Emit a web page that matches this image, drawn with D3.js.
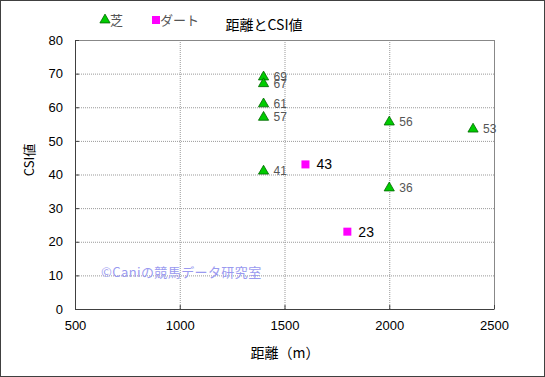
<!DOCTYPE html>
<html lang="ja">
<head>
  <meta charset="UTF-8">
  <title>距離とCSI値</title>
  <script src='https://d3js.org/d3.v7.min.js'></script>
  <style>
    body { margin: 0; background: #fff; }
    text { font-family: "Liberation Sans", "Noto Sans CJK JP", sans-serif; }
    .jp { font-family: "Noto Sans CJK JP", sans-serif; }
  </style>
</head>
<body>
</body>
<script>
  const width = 545, height = 377;
  const margin = {top: 40, right: 51, bottom: 68, left: 75};

  // data
  const turfDist = [1400, 1400, 1400, 1400, 1400, 2000, 2000, 2400];
  const turfCsi  = [69, 67, 61, 57, 41, 55.6, 36, 53.5];
  const turfLabels = ['69', '67', '61', '57', '41', '56', '36', '53'];
  const dirtDist = [1600, 1800];
  const dirtCsi  = [43, 23];
  const dirtLabels = ['43', '23'];
  const xTicks = [500, 1000, 1500, 2000, 2500];
  const yTicks = [0, 10, 20, 30, 40, 50, 60, 70, 80];

  const turf = turfDist.map((d, i) => ({x: d, y: turfCsi[i], label: turfLabels[i]}));
  const dirt = dirtDist.map((d, i) => ({x: d, y: dirtCsi[i], label: dirtLabels[i]}));

  const svg = d3.select('body').append('svg').attr('width', width).attr('height', height);

  // outer frame
  svg.append('rect').attr('x', 0.5).attr('y', 0.5).attr('width', width - 1).attr('height', height - 1)
    .attr('fill', '#fff').attr('stroke', '#404040');

  const x = d3.scaleLinear().domain([500, 2500]).range([margin.left, width - margin.right]);
  const y = d3.scaleLinear().domain([0, 80]).range([height - margin.bottom, margin.top]);

  // gridlines
  svg.append('g').selectAll('line').data(xTicks.slice(1, -1)).join('line')
    .attr('x1', d => x(d) + 0.5).attr('x2', d => x(d) + 0.5)
    .attr('y1', y(80)).attr('y2', y(0))
    .attr('stroke', '#999').attr('stroke-dasharray', '1,1');
  svg.append('g').selectAll('line').data(yTicks.slice(1, -1)).join('line')
    .attr('x1', x(500)).attr('x2', x(2500))
    .attr('y1', d => y(d) + 0.5).attr('y2', d => y(d) + 0.5)
    .attr('stroke', '#999').attr('stroke-dasharray', '1,1');

  // plot border (top/right light, left/bottom dark)
  svg.append('line').attr('x1', x(500)).attr('x2', x(2500)).attr('y1', y(80) + 0.5).attr('y2', y(80) + 0.5).attr('stroke', '#888');
  svg.append('line').attr('x1', x(2500) + 0.5).attr('x2', x(2500) + 0.5).attr('y1', y(80)).attr('y2', y(0)).attr('stroke', '#888');

  const xAxis = svg.append('g').attr('transform', `translate(0,${y(0)})`)
    .call(d3.axisBottom(x).tickValues(xTicks).tickSize(4).tickSizeOuter(0).tickFormat(d3.format('d')));
  const yAxis = svg.append('g').attr('transform', `translate(${x(500)},0)`)
    .call(d3.axisLeft(y).tickValues(yTicks).tickSize(4).tickSizeOuter(0));
  [xAxis, yAxis].forEach(a => {
    a.select('.domain').attr('stroke', '#404040');
    a.selectAll('.tick line').attr('stroke', '#404040');
    a.selectAll('text').attr('font-size', 13).attr('fill', '#000');
  });
  xAxis.selectAll('text').attr('dy', '1.1em');
  xAxis.selectAll('.tick line').attr('y2', 0).attr('y1', -4);
  yAxis.selectAll('.tick line').attr('x2', 0).attr('x1', 4);
  yAxis.selectAll('text').attr('x', -12);

  // watermark
  svg.append('text').attr('class', 'jp').attr('x', 101).attr('y', 277)
    .attr('font-size', 13).attr('letter-spacing', 0.4).attr('fill', '#9a9af0').text('©Caniの競馬データ研究室');

  // turf points
  const tri = d3.symbol().type(d3.symbolTriangle).size(45);
  svg.append('g').selectAll('path').data(turf).join('path')
    .attr('d', tri)
    .attr('transform', d => `translate(${x(d.x)},${y(d.y)})`)
    .attr('fill', '#00cc00').attr('stroke', '#006600').attr('stroke-width', 0.8);
  svg.append('g').selectAll('text').data(turf).join('text')
    .attr('x', d => x(d.x) + 10).attr('y', d => y(d.y) + 4)
    .attr('font-size', 12).attr('fill', '#555').text(d => d.label);

  // dirt points
  svg.append('g').selectAll('rect').data(dirt).join('rect')
    .attr('x', d => x(d.x) - 4).attr('y', d => y(d.y) - 4)
    .attr('width', 8).attr('height', 8).attr('fill', '#ff00ff');
  svg.append('g').selectAll('text').data(dirt).join('text')
    .attr('x', d => x(d.x) + 11).attr('y', d => y(d.y) + 5)
    .attr('font-size', 14).attr('fill', '#000').text(d => d.label);

  // legend
  svg.append('path').attr('d', tri).attr('transform', 'translate(105,20)')
    .attr('fill', '#00cc00').attr('stroke', '#006600').attr('stroke-width', 0.8);
  svg.append('text').attr('class', 'jp').attr('x', 110).attr('y', 25).attr('font-size', 13).attr('fill', '#555').text('芝');
  svg.append('rect').attr('x', 152).attr('y', 16).attr('width', 8).attr('height', 8).attr('fill', '#ff00ff');
  svg.append('text').attr('class', 'jp').attr('x', 160).attr('y', 25).attr('font-size', 13).attr('fill', '#555').text('ダート');

  // title and axis labels
  svg.append('text').attr('class', 'jp').attr('x', 264).attr('y', 30).attr('text-anchor', 'middle')
    .attr('font-size', 14).attr('fill', '#000').text('距離とCSI値');
  svg.append('text').attr('class', 'jp').attr('x', 285).attr('y', 358).attr('text-anchor', 'middle')
    .attr('font-size', 14).attr('fill', '#000').text('距離（m）');
  svg.append('text').attr('class', 'jp').attr('transform', 'translate(34,160) rotate(-90)')
    .attr('text-anchor', 'middle').attr('font-size', 13).attr('fill', '#000').text('CSI値');
</script>
</html>
